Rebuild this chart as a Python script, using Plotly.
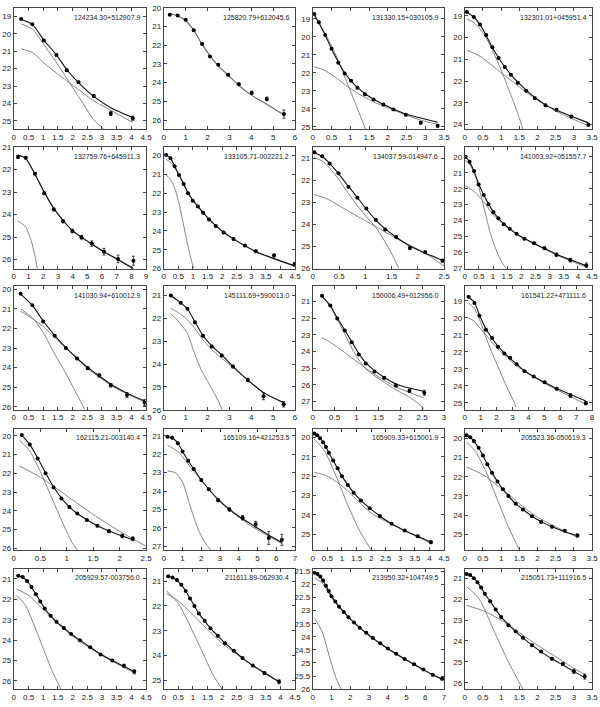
import plotly.graph_objects as go

# ---------------- panel titles and axes ----------------
names = ["124234.30+512907.9", "125820.79+612045.6", "131330.15+030105.9", "132301.01+045951.4",
         "132759.76+645911.3", "133105.71-002221.2", "134037.59-014947.6", "141003.92+051557.7",
         "141030.94+610012.9", "145111.69+590013.0", "150006.49+012956.0", "161541.22+471111.6",
         "162115.21-003140.4", "165109.16+421253.5", "165909.33+615001.9", "205523.36-050619.3",
         "205929.57-003756.0", "211611.89-062930.4", "213950.32+104749.5", "215051.73+111916.5"]
xmax = [4.5, 6, 3.5, 3.5, 9, 4.5, 2.5, 4.5, 4.5, 6, 3, 8, 2.5, 7, 4.5, 3.5, 4.5, 4.5, 7, 3.5]
xstep = [0.5, 1, 0.5, 0.5, 1, 0.5, 0.5, 0.5, 0.5, 1, 0.5, 1, 0.5, 1, 0.5, 0.5, 0.5, 0.5, 1, 0.5]
ybright = [18.5, 20.0, 18.4, 18.63, 21.0, 19.55, 20.5, 19.4, 19.85, 20.6, 20.1, 18.15,
           19.6, 20.6, 19.55, 19.5, 20.5, 20.5, 21.4, 20.55]
yfaint = [25.5, 26.5, 25.15, 24.23, 26.4, 26.0, 26.0, 27.0, 26.15, 26.0, 27.5, 25.4,
          26.1, 27.2, 25.8, 25.8, 26.4, 25.35, 26.0, 26.3]
ystep = [1]*18 + [0.5, 1]

# ---------------- data: radius, surface brightness, error ----------------
p01_r = [0.25, 0.63, 1.02, 1.45, 1.80, 2.20, 2.72, 3.30, 4.05]
p01_mu = [19.13, 19.44, 20.37, 21.21, 22.09, 22.79, 23.57, 24.58, 24.86]
p01_err = [0.03, 0.03, 0.04, 0.05, 0.06, 0.07, 0.08, 0.12, 0.13]
p01_tot = [19.15, 19.45, 20.35, 21.2, 22.05, 22.8, 23.6, 24.25, 24.82]
p01_bul_r = [0.25, 0.63, 1.02, 1.45, 1.80, 2.20, 2.72, 3.07]
p01_bul = [19.42, 19.72, 20.6, 21.65, 22.55, 23.6, 24.95, 25.5]
p01_dsk_r = [0.25, 0.63, 1.02, 1.45, 1.80, 2.20, 2.72, 3.30, 4.05]
p01_dsk = [20.87, 21.06, 21.67, 22.25, 22.7, 23.2, 23.86, 24.4, 25.1]

p02_r = [0.27, 0.63, 1.0, 1.37, 1.75, 2.11, 2.49, 2.94, 3.43, 4.02, 4.71, 5.49]
p02_mu = [20.37, 20.40, 20.63, 21.2, 21.93, 22.6, 23.04, 23.57, 24.08, 24.54, 24.87, 25.68]
p02_err = [0.03, 0.03, 0.03, 0.04, 0.04, 0.05, 0.05, 0.06, 0.07, 0.08, 0.1, 0.22]
p02_tot = [20.3, 20.42, 20.67, 21.2, 21.95, 22.55, 23.1, 23.6, 24.15, 24.68, 25.15, 25.72]
p02_bul_r = []
p02_bul = []
p02_dsk_r = []
p02_dsk = []

p03_r = [0.04, 0.16, 0.33, 0.5, 0.68, 0.85, 1.02, 1.19, 1.39, 1.62, 1.88, 2.15, 2.48, 2.88, 3.33]
p03_mu = [18.73, 19.2, 19.91, 20.67, 21.45, 22.04, 22.44, 22.84, 23.2, 23.49, 23.76, 24.04, 24.33, 24.78, 24.95]
p03_err = [0.02, 0.02, 0.02, 0.03, 0.03, 0.03, 0.04, 0.04, 0.04, 0.05, 0.05, 0.05, 0.06, 0.07, 0.08]
p03_tot = [18.75, 19.22, 19.9, 20.68, 21.4, 22.0, 22.45, 22.82, 23.17, 23.47, 23.75, 24.02, 24.3, 24.52, 24.75]
p03_bul_r = [0.04, 0.2, 0.4, 0.6, 0.8, 1.0, 1.2, 1.41]
p03_bul = [18.85, 19.35, 20.1, 20.95, 21.95, 23.0, 24.05, 25.15]
p03_dsk_r = [0.04, 0.3, 0.6, 0.85, 1.2, 1.62, 2.0, 2.48, 2.9, 3.33]
p03_dsk = [21.67, 21.85, 22.25, 22.65, 23.15, 23.62, 23.95, 24.35, 24.65, 24.88]

p04_r = [0.06, 0.25, 0.42, 0.59, 0.76, 0.93, 1.1, 1.27, 1.46, 1.69, 1.93, 2.22, 2.52, 2.93, 3.4]
p04_mu = [18.82, 19.05, 19.39, 19.88, 20.44, 20.94, 21.35, 21.71, 22.08, 22.45, 22.79, 23.12, 23.32, 23.64, 24.02]
p04_err = [0.02, 0.02, 0.02, 0.02, 0.03, 0.03, 0.03, 0.03, 0.04, 0.04, 0.04, 0.05, 0.05, 0.06, 0.06]
p04_tot = [18.83, 19.06, 19.4, 19.9, 20.45, 20.93, 21.35, 21.7, 22.05, 22.42, 22.76, 23.1, 23.35, 23.62, 23.93]
p04_bul_r = [0.06, 0.25, 0.42, 0.6, 0.76, 0.9, 1.05, 1.2, 1.35, 1.5, 1.6]
p04_bul = [19.15, 19.3, 19.6, 20.05, 20.56, 21.1, 21.7, 22.35, 23.0, 23.7, 24.23]
p04_dsk_r = [0.06, 0.42, 0.76, 1.0, 1.27, 1.6, 1.93, 2.52, 2.93, 3.4]
p04_dsk = [20.58, 20.86, 21.29, 21.62, 21.97, 22.4, 22.8, 23.4, 23.72, 24.06]

p05_r = [0.28, 0.81, 1.44, 2.07, 2.72, 3.35, 3.98, 4.6, 5.3, 6.14, 7.09, 8.14]
p05_mu = [21.44, 21.47, 22.18, 23.05, 23.77, 24.3, 24.73, 25.01, 25.29, 25.65, 25.97, 26.05]
p05_err = [0.05, 0.05, 0.05, 0.05, 0.06, 0.07, 0.08, 0.08, 0.12, 0.15, 0.17, 0.2]
p05_tot = [21.35, 21.5, 22.2, 23.0, 23.72, 24.25, 24.7, 25.0, 25.3, 25.65, 26.0, 26.4]
p05_bul_r = [0.28, 0.81, 1.2, 1.44, 1.6]
p05_bul = [24.28, 24.55, 25.2, 25.85, 26.4]
p05_dsk_r = [0.28, 0.81, 1.44, 2.07, 2.72, 3.35, 3.98, 4.6, 5.3, 6.14, 7.09, 8.14]
p05_dsk = [21.33, 21.52, 22.22, 23.02, 23.74, 24.27, 24.72, 25.02, 25.32, 25.67, 26.02, 26.42]

p06_r = [0.08, 0.23, 0.37, 0.52, 0.68, 0.83, 0.99, 1.17, 1.35, 1.55, 1.78, 2.05, 2.39, 2.78, 3.16, 3.78, 4.48]
p06_mu = [19.97, 20.14, 20.56, 21.03, 21.51, 22.0, 22.4, 22.7, 23.04, 23.39, 23.74, 24.09, 24.43, 24.78, 25.08, 25.3, 25.77]
p06_err = [0.02, 0.02, 0.02, 0.02, 0.03, 0.03, 0.03, 0.03, 0.04, 0.04, 0.04, 0.05, 0.05, 0.06, 0.07, 0.08, 0.1]
p06_tot = [19.95, 20.15, 20.55, 21.02, 21.5, 21.97, 22.35, 22.7, 23.03, 23.37, 23.72, 24.07, 24.42, 24.78, 25.1, 25.47, 25.85]
p06_bul_r = [0.08, 0.2, 0.3, 0.4, 0.5, 0.6, 0.7, 0.8, 0.9, 1.0, 1.05]
p06_bul = [21.04, 21.2, 21.45, 21.85, 22.4, 23.1, 23.85, 24.6, 25.3, 25.85, 26.0]
p06_dsk_r = [0.08, 0.23, 0.37, 0.52, 0.68, 0.83, 0.99, 1.35, 1.78, 2.39, 3.16, 3.78, 4.48]
p06_dsk = [20.2, 20.35, 20.65, 21.05, 21.52, 21.99, 22.37, 23.05, 23.74, 24.44, 25.12, 25.49, 25.87]

p07_r = [0.03, 0.18, 0.32, 0.49, 0.68, 0.85, 1.02, 1.2, 1.38, 1.59, 1.85, 2.14, 2.47]
p07_mu = [20.73, 20.91, 21.24, 21.68, 22.29, 22.79, 23.28, 23.79, 24.23, 24.57, 25.07, 25.26, 25.64]
p07_err = [0.02, 0.02, 0.02, 0.03, 0.03, 0.03, 0.04, 0.04, 0.05, 0.05, 0.06, 0.06, 0.07]
p07_tot = [20.75, 20.92, 21.23, 21.7, 22.28, 22.78, 23.3, 23.8, 24.2, 24.58, 24.98, 25.3, 25.62]
p07_bul_r = [0.03, 0.18, 0.32, 0.49, 0.68, 0.85, 1.02, 1.2, 1.38, 1.52, 1.64]
p07_bul = [20.98, 21.13, 21.45, 21.95, 22.6, 23.15, 23.65, 24.13, 24.8, 25.4, 26.0]
p07_dsk_r = [0.03, 0.26, 0.68, 1.2, 1.59, 2.14, 2.5]
p07_dsk = [22.65, 22.83, 23.4, 24.1, 24.63, 25.3, 25.88]

p08_r = [0.03, 0.17, 0.33, 0.49, 0.67, 0.84, 1.01, 1.19, 1.38, 1.59, 1.83, 2.11, 2.45, 2.82, 3.24, 3.73, 4.3]
p08_mu = [20.0, 20.31, 20.89, 21.73, 22.39, 22.97, 23.47, 23.85, 24.22, 24.51, 24.82, 25.14, 25.41, 25.72, 26.13, 26.47, 26.8]
p08_err = [0.02, 0.02, 0.02, 0.03, 0.03, 0.03, 0.03, 0.04, 0.04, 0.04, 0.05, 0.05, 0.06, 0.07, 0.1, 0.12, 0.15]
p08_tot = [20.0, 20.32, 20.9, 21.7, 22.38, 22.95, 23.45, 23.85, 24.2, 24.5, 24.82, 25.12, 25.42, 25.75, 26.1, 26.45, 26.82]
p08_bul_r = [0.03, 0.2, 0.33, 0.45, 0.6, 0.75, 0.9, 1.05, 1.2, 1.35, 1.47]
p08_bul = [20.21, 20.55, 21.0, 21.6, 22.6, 23.7, 24.75, 25.55, 26.2, 26.7, 27.0]
p08_dsk_r = [0.03, 0.33, 0.67, 1.01, 1.38, 1.83, 2.45, 3.24, 4.3]
p08_dsk = [21.81, 22.18, 22.81, 23.64, 24.25, 24.85, 25.45, 26.15, 26.9]

p09_r = [0.23, 0.63, 1.0, 1.39, 1.77, 2.15, 2.52, 2.91, 3.3, 3.85, 4.45]
p09_mu = [20.23, 20.82, 21.65, 22.37, 23.0, 23.53, 24.03, 24.4, 24.9, 25.4, 25.78]
p09_err = [0.03, 0.04, 0.04, 0.05, 0.05, 0.06, 0.07, 0.08, 0.09, 0.13, 0.15]
p09_tot = [20.25, 20.82, 21.62, 22.35, 22.98, 23.52, 24.0, 24.42, 24.85, 25.3, 25.7]
p09_bul_r = [0.23, 0.63, 1.0, 1.39, 1.77, 2.0, 2.3, 2.42]
p09_bul = [21.0, 21.45, 22.2, 23.3, 24.3, 24.95, 25.8, 26.15]
p09_dsk_r = [0.23, 0.63, 1.0, 1.39, 1.77, 2.52, 3.3, 3.85, 4.45]
p09_dsk = [21.12, 21.5, 21.9, 22.45, 23.0, 24.05, 24.9, 25.35, 25.75]

p10_r = [0.32, 0.77, 1.08, 1.42, 1.79, 2.19, 2.65, 3.16, 3.84, 4.56, 5.48]
p10_mu = [21.0, 21.32, 21.58, 22.17, 22.76, 23.23, 23.62, 24.11, 24.7, 25.41, 25.76]
p10_err = [0.03, 0.03, 0.03, 0.04, 0.04, 0.05, 0.05, 0.06, 0.08, 0.15, 0.12]
p10_tot = [21.0, 21.32, 21.58, 22.15, 22.75, 23.2, 23.6, 24.1, 24.7, 25.25, 25.68]
p10_bul_r = [0.32, 0.77, 1.08, 1.37, 1.69, 2.1, 2.5, 2.66]
p10_bul = [21.79, 22.24, 22.66, 23.44, 24.21, 24.92, 25.63, 26.0]
p10_dsk_r = [0.32, 0.77, 1.08, 1.42, 1.79, 2.19, 3.16, 4.56, 5.48]
p10_dsk = [21.56, 21.82, 22.06, 22.45, 22.94, 23.37, 24.15, 25.25, 25.72]

p11_r = [0.21, 0.4, 0.56, 0.73, 0.89, 1.05, 1.21, 1.41, 1.63, 1.9, 2.21, 2.55]
p11_mu = [20.67, 21.25, 22.02, 22.74, 23.45, 24.18, 24.72, 25.21, 25.58, 26.04, 26.36, 26.48]
p11_err = [0.03, 0.03, 0.03, 0.04, 0.04, 0.05, 0.05, 0.06, 0.07, 0.08, 0.1, 0.15]
p11_tot = [20.68, 21.25, 22.0, 22.72, 23.42, 24.12, 24.68, 25.15, 25.55, 25.95, 26.2, 26.4]
p11_bul_r = [0.21, 0.4, 0.56, 0.73, 0.89, 1.05, 1.21, 1.41, 1.63, 1.9, 2.21, 2.4, 2.55]
p11_bul = [20.7, 21.3, 22.1, 22.95, 23.8, 24.5, 25.05, 25.45, 25.85, 26.3, 26.75, 27.1, 27.45]
p11_dsk_r = [0.21, 0.4, 0.73, 1.05, 1.41, 1.9, 2.55]
p11_dsk = [23.17, 23.45, 24.07, 24.7, 25.37, 26.13, 26.8]

p12_r = [0.24, 0.61, 0.93, 1.33, 1.72, 2.09, 2.48, 2.85, 3.26, 3.76, 4.33, 5.02, 5.78, 6.65, 7.61]
p12_mu = [18.76, 19.13, 19.88, 20.7, 21.19, 21.7, 22.09, 22.35, 22.73, 23.14, 23.44, 23.78, 24.17, 24.56, 25.01]
p12_err = [0.02, 0.02, 0.02, 0.03, 0.03, 0.03, 0.03, 0.04, 0.04, 0.04, 0.05, 0.05, 0.06, 0.1, 0.1]
p12_tot = [18.76, 19.1, 19.85, 20.65, 21.2, 21.68, 22.05, 22.38, 22.72, 23.12, 23.45, 23.8, 24.15, 24.5, 24.88]
p12_bul_r = [0.24, 0.61, 0.93, 1.33, 1.72, 2.2, 2.63, 3.07, 3.22]
p12_bul = [19.13, 19.45, 20.1, 21.13, 22.07, 23.1, 24.04, 24.88, 25.25]
p12_dsk_r = [0.24, 0.61, 0.93, 1.33, 2.09, 3.26, 5.02, 7.61]
p12_dsk = [20.01, 20.2, 20.57, 21.0, 21.83, 22.82, 23.85, 25.07]

p13_r = [0.15, 0.3, 0.45, 0.6, 0.75, 0.9, 1.05, 1.2, 1.38, 1.58, 1.8, 2.05, 2.25]
p13_mu = [19.95, 20.45, 21.2, 22.0, 22.75, 23.35, 23.8, 24.15, 24.5, 24.8, 25.1, 25.35, 25.5]
p13_err = [0.02, 0.02, 0.03, 0.03, 0.03, 0.04, 0.04, 0.05, 0.05, 0.06, 0.07, 0.1, 0.1]
p13_tot = [19.95, 20.45, 21.18, 21.98, 22.72, 23.33, 23.8, 24.15, 24.48, 24.8, 25.08, 25.35, 25.55]
p13_bul_r = [0.1, 0.3, 0.5, 0.7, 0.9, 1.1, 1.2]
p13_bul = [20.2, 20.8, 21.9, 23.2, 24.5, 25.7, 26.1]
p13_dsk_r = [0.1, 0.5, 1.0, 1.5, 2.0, 2.5]
p13_dsk = [21.6, 22.2, 23.2, 24.2, 25.1, 25.9]

p14_r = [0.2, 0.45, 0.75, 1.0, 1.3, 1.6, 2.0, 2.4, 2.9, 3.5, 4.2, 4.9, 5.6, 6.3]
p14_mu = [21.05, 21.1, 21.4, 21.85, 22.35, 22.8, 23.4, 23.9, 24.5, 25.0, 25.45, 25.8, 26.55, 26.65]
p14_err = [0.03, 0.03, 0.03, 0.04, 0.04, 0.05, 0.05, 0.06, 0.07, 0.09, 0.12, 0.15, 0.35, 0.3]
p14_tot = [21.05, 21.12, 21.4, 21.85, 22.35, 22.8, 23.4, 23.9, 24.48, 25.0, 25.5, 25.95, 26.4, 26.8]
p14_bul_r = [0.2, 0.6, 1.0, 1.4, 1.8, 2.2, 2.5]
p14_bul = [22.9, 23.0, 23.5, 24.8, 26.0, 26.8, 27.2]
p14_dsk_r = [0.2, 0.8, 1.5, 2.5, 3.5, 4.5, 5.5, 6.3]
p14_dsk = [21.5, 21.9, 22.8, 24.0, 25.0, 25.8, 26.4, 26.85]

p15_r = [0.05, 0.15, 0.25, 0.35, 0.45, 0.55, 0.7, 0.85, 1.0, 1.2, 1.4, 1.65, 1.95, 2.3, 2.7, 3.15, 3.6, 4.05]
p15_mu = [19.8, 19.9, 20.05, 20.25, 20.5, 20.8, 21.2, 21.6, 22.0, 22.45, 22.85, 23.25, 23.65, 24.05, 24.45, 24.8, 25.1, 25.4]
p15_err = [0.02]*12 + [0.03, 0.03, 0.04, 0.05, 0.06, 0.08]
p15_tot = [19.8, 19.9, 20.05, 20.25, 20.5, 20.8, 21.2, 21.6, 22.0, 22.45, 22.85, 23.25, 23.65, 24.05, 24.45, 24.8, 25.1, 25.4]
p15_bul_r = [0.05, 0.4, 0.8, 1.2, 1.6, 2.0]
p15_bul = [20.1, 20.7, 22.0, 23.5, 24.8, 25.8]
p15_dsk_r = [0.05, 0.5, 1.0, 1.5, 2.0, 3.0, 4.05]
p15_dsk = [21.8, 22.0, 22.5, 23.2, 23.9, 24.7, 25.45]

p16_r = [0.05, 0.15, 0.25, 0.38, 0.5, 0.62, 0.75, 0.9, 1.05, 1.2, 1.4, 1.6, 1.85, 2.1, 2.4, 2.75, 3.1]
p16_mu = [19.85, 19.95, 20.15, 20.5, 20.9, 21.35, 21.8, 22.25, 22.65, 23.0, 23.4, 23.7, 24.05, 24.35, 24.6, 24.8, 25.05]
p16_err = [0.02]*12 + [0.03, 0.03, 0.05, 0.06, 0.08]
p16_tot = [19.85, 19.95, 20.15, 20.5, 20.9, 21.35, 21.8, 22.25, 22.65, 23.0, 23.4, 23.7, 24.05, 24.33, 24.6, 24.85, 25.05]
p16_bul_r = [0.05, 0.3, 0.6, 0.9, 1.2, 1.5]
p16_bul = [20.2, 20.7, 21.8, 23.2, 24.6, 25.8]
p16_dsk_r = [0.05, 0.5, 1.0, 1.5, 2.0, 2.5, 3.1]
p16_dsk = [21.5, 21.9, 22.6, 23.4, 24.1, 24.6, 25.15]

p17_r = [0.15, 0.3, 0.45, 0.6, 0.75, 0.9, 1.05, 1.25, 1.45, 1.7, 1.95, 2.25, 2.6, 2.95, 3.35, 3.75, 4.1]
p17_mu = [20.85, 20.9, 21.1, 21.4, 21.75, 22.1, 22.45, 22.8, 23.1, 23.4, 23.7, 24.0, 24.35, 24.7, 25.0, 25.25, 25.55]
p17_err = [0.02]*12 + [0.03, 0.04, 0.05, 0.07, 0.1]
p17_tot = [20.85, 20.92, 21.1, 21.4, 21.75, 22.1, 22.45, 22.8, 23.1, 23.4, 23.7, 24.0, 24.35, 24.68, 25.0, 25.28, 25.55]
p17_bul_r = [0.1, 0.4, 0.7, 1.0, 1.3, 1.6]
p17_bul = [21.8, 22.3, 23.3, 24.4, 25.5, 26.4]
p17_dsk_r = [0.1, 0.5, 1.0, 1.5, 2.0, 2.5, 3.0, 3.5, 4.1]
p17_dsk = [21.5, 21.8, 22.5, 23.2, 23.8, 24.3, 24.75, 25.15, 25.6]

p18_r = [0.15, 0.3, 0.45, 0.6, 0.75, 0.9, 1.05, 1.2, 1.4, 1.6, 1.85, 2.1, 2.4, 2.7, 3.05, 3.45, 3.95]
p18_mu = [20.8, 20.85, 20.95, 21.15, 21.4, 21.7, 22.0, 22.3, 22.6, 22.9, 23.2, 23.5, 23.8, 24.1, 24.4, 24.7, 25.05]
p18_err = [0.02]*12 + [0.03, 0.03, 0.04, 0.05, 0.08]
p18_tot = [20.8, 20.86, 20.97, 21.15, 21.4, 21.7, 22.0, 22.3, 22.6, 22.9, 23.2, 23.5, 23.8, 24.1, 24.4, 24.7, 25.05]
p18_bul_r = [0.1, 0.5, 0.9, 1.3, 1.7, 2.0]
p18_bul = [21.4, 21.9, 22.8, 23.8, 24.8, 25.35]
p18_dsk_r = [0.1, 0.5, 1.0, 1.5, 2.0, 2.5, 3.0, 3.5, 4.0]
p18_dsk = [21.5, 21.8, 22.35, 22.95, 23.5, 23.95, 24.35, 24.7, 25.1]

p19_r = [0.1, 0.25, 0.4, 0.55, 0.7, 0.85, 1.0, 1.2, 1.4, 1.65, 1.9, 2.2, 2.5, 2.85, 3.2, 3.6, 4.0, 4.45, 4.9, 5.4, 5.9, 6.4, 6.9]
p19_mu = [21.55, 21.6, 21.7, 21.85, 22.05, 22.25, 22.45, 22.65, 22.85, 23.05, 23.25, 23.45, 23.65, 23.85,
          24.05, 24.25, 24.45, 24.65, 24.85, 25.05, 25.25, 25.45, 25.6]
p19_err = [0.01]*16 + [0.02, 0.02, 0.02, 0.03, 0.03, 0.04, 0.05]
p19_tot = [21.55, 21.6, 21.7, 21.85, 22.05, 22.25, 22.45, 22.65, 22.85, 23.05, 23.25, 23.45, 23.65, 23.85,
           24.05, 24.25, 24.45, 24.65, 24.85, 25.05, 25.25, 25.45, 25.62]
p19_bul_r = [0.1, 0.5, 0.9, 1.2, 1.5]
p19_bul = [23.3, 23.8, 24.8, 25.5, 26.0]
p19_dsk_r = [0.1, 0.5, 1.0, 1.5, 2.2, 3.2, 4.45, 5.9, 6.9]
p19_dsk = [21.75, 21.95, 22.5, 22.95, 23.48, 24.07, 24.67, 25.27, 25.64]

p20_r = [0.05, 0.15, 0.25, 0.35, 0.45, 0.55, 0.7, 0.85, 1.0, 1.2, 1.4, 1.6, 1.85, 2.1, 2.4, 2.7, 3.0, 3.3]
p20_mu = [20.8, 20.85, 21.0, 21.2, 21.45, 21.75, 22.1, 22.5, 22.85, 23.25, 23.55, 23.85, 24.2, 24.5, 24.85, 25.1, 25.45, 25.7]
p20_err = [0.02]*12 + [0.03, 0.04, 0.05, 0.07, 0.1, 0.12]
p20_tot = [20.8, 20.86, 21.0, 21.2, 21.45, 21.75, 22.1, 22.5, 22.85, 23.22, 23.55, 23.85, 24.2, 24.52, 24.85, 25.15, 25.45, 25.75]
p20_bul_r = [0.05, 0.4, 0.8, 1.2, 1.6]
p20_bul = [21.4, 22.0, 23.5, 25.0, 26.3]
p20_dsk_r = [0.05, 0.5, 1.0, 1.5, 2.0, 2.5, 3.0, 3.3]
p20_dsk = [22.3, 22.55, 23.0, 23.6, 24.2, 24.75, 25.3, 25.6]

R = [p01_r, p02_r, p03_r, p04_r, p05_r, p06_r, p07_r, p08_r, p09_r, p10_r,
     p11_r, p12_r, p13_r, p14_r, p15_r, p16_r, p17_r, p18_r, p19_r, p20_r]
MU = [p01_mu, p02_mu, p03_mu, p04_mu, p05_mu, p06_mu, p07_mu, p08_mu, p09_mu, p10_mu,
      p11_mu, p12_mu, p13_mu, p14_mu, p15_mu, p16_mu, p17_mu, p18_mu, p19_mu, p20_mu]
ERR = [p01_err, p02_err, p03_err, p04_err, p05_err, p06_err, p07_err, p08_err, p09_err, p10_err,
       p11_err, p12_err, p13_err, p14_err, p15_err, p16_err, p17_err, p18_err, p19_err, p20_err]
TOT = [p01_tot, p02_tot, p03_tot, p04_tot, p05_tot, p06_tot, p07_tot, p08_tot, p09_tot, p10_tot,
       p11_tot, p12_tot, p13_tot, p14_tot, p15_tot, p16_tot, p17_tot, p18_tot, p19_tot, p20_tot]
BUL_R = [p01_bul_r, p02_bul_r, p03_bul_r, p04_bul_r, p05_bul_r, p06_bul_r, p07_bul_r, p08_bul_r, p09_bul_r, p10_bul_r,
         p11_bul_r, p12_bul_r, p13_bul_r, p14_bul_r, p15_bul_r, p16_bul_r, p17_bul_r, p18_bul_r, p19_bul_r, p20_bul_r]
BUL = [p01_bul, p02_bul, p03_bul, p04_bul, p05_bul, p06_bul, p07_bul, p08_bul, p09_bul, p10_bul,
       p11_bul, p12_bul, p13_bul, p14_bul, p15_bul, p16_bul, p17_bul, p18_bul, p19_bul, p20_bul]
DSK_R = [p01_dsk_r, p02_dsk_r, p03_dsk_r, p04_dsk_r, p05_dsk_r, p06_dsk_r, p07_dsk_r, p08_dsk_r, p09_dsk_r, p10_dsk_r,
         p11_dsk_r, p12_dsk_r, p13_dsk_r, p14_dsk_r, p15_dsk_r, p16_dsk_r, p17_dsk_r, p18_dsk_r, p19_dsk_r, p20_dsk_r]
DSK = [p01_dsk, p02_dsk, p03_dsk, p04_dsk, p05_dsk, p06_dsk, p07_dsk, p08_dsk, p09_dsk, p10_dsk,
       p11_dsk, p12_dsk, p13_dsk, p14_dsk, p15_dsk, p16_dsk, p17_dsk, p18_dsk, p19_dsk, p20_dsk]

# ---------------- layout geometry (pixels) ----------------
W, H = 600, 707
col_px = [(12, 146), (164, 297), (315, 448), (469, 598)]
row_px = [(4, 127), (145, 268), (286, 411), (430, 553), (572, 694)]

fig = go.Figure()
FONT = "Liberation Sans, Arial, sans-serif"

for i in range(20):
    r, c = divmod(i, 4)
    ax = "" if i == 0 else str(i + 1)
    xa, ya = "x" + ax, "y" + ax
    if BUL_R[i]:
        fig.add_trace(go.Scatter(x=BUL_R[i], y=BUL[i], mode="lines", xaxis=xa, yaxis=ya,
                                 line=dict(color="#777777", width=0.9, shape="spline", smoothing=0.6),
                                 showlegend=False, hoverinfo="skip"))
    if DSK_R[i]:
        fig.add_trace(go.Scatter(x=DSK_R[i], y=DSK[i], mode="lines", xaxis=xa, yaxis=ya,
                                 line=dict(color="#777777", width=0.9, shape="spline", smoothing=0.6),
                                 showlegend=False, hoverinfo="skip"))
    tot_color = "#666666" if i == 1 else "#111111"
    fig.add_trace(go.Scatter(x=R[i], y=TOT[i], mode="lines", xaxis=xa, yaxis=ya,
                             line=dict(color=tot_color, width=1.1, shape="spline", smoothing=0.6),
                             showlegend=False, hoverinfo="skip"))
    fig.add_trace(go.Scatter(x=R[i], y=MU[i], mode="markers", xaxis=xa, yaxis=ya,
                             marker=dict(color="black", size=4, symbol="circle"),
                             error_y=dict(type="data", array=ERR[i], color="black", thickness=0.7, width=1.5),
                             showlegend=False))

    x0, x1 = col_px[c]
    t, b = row_px[r]
    axis_common = dict(showline=True, linecolor="#444444", linewidth=1, mirror="allticks",
                       ticks="inside", ticklen=3, tickcolor="#444444", tickwidth=0.8,
                       showgrid=False, zeroline=False,
                       tickfont=dict(family=FONT, size=8, color="#222222"))
    fig.layout["xaxis" + ax] = dict(domain=[x0 / W, x1 / W], anchor=ya,
                                    range=[0, xmax[i]], tick0=0, dtick=xstep[i], **axis_common)
    fig.layout["yaxis" + ax] = dict(domain=[1 - b / H, 1 - t / H], anchor=xa,
                                    range=[yfaint[i], ybright[i]], tick0=0, dtick=ystep[i], **axis_common)
    fig.add_annotation(text=names[i], xref=xa + " domain", yref=ya + " domain",
                       x=0.97, y=0.97, xanchor="right", yanchor="top", showarrow=False,
                       font=dict(family=FONT, size=7, color="#222222"))

fig.update_layout(width=W, height=H, margin=dict(l=0, r=0, t=0, b=0),
                  paper_bgcolor="white", plot_bgcolor="white", showlegend=False)
fig.write_html("out.html", config={"displayModeBar": False},
               post_script="document.body.style.margin='0px';")
